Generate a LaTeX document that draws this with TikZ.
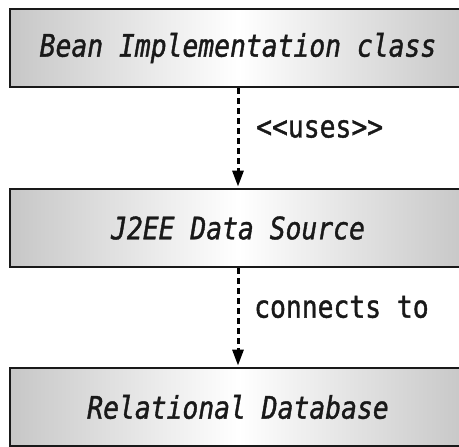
\documentclass[tikz,border=0pt]{standalone}
\usepackage{fontspec}
\newfontfamily\monofont[FakeStretch=0.85,FakeBold=1.2]{DejaVu Sans Mono}
\usetikzlibrary{arrows.meta}
\begin{document}
\begin{tikzpicture}[x=1pt,y=-1pt,
  box/.style={draw=black!90, line width=2.8pt, left color=black!22, right color=black!22, middle color=white, minimum width=456pt, minimum height=78pt, inner sep=0pt, font=\monofont\itshape\fontsize{31}{34}\selectfont, text=black!90},
  conn/.style={draw=black, line width=3pt, dash pattern=on 6pt off 4pt, -{Triangle[width=11pt,length=16pt]}, shorten >=1pt},
  lbl/.style={anchor=west, inner sep=0pt, font=\monofont\fontsize{31}{34}\selectfont, text=black!90}]
\useasboundingbox (0,0) rectangle (459,447);
\node[box] (bean) at (238,48) {Bean Implementation class};
\node[box] (ds) at (238,228) {J2EE Data Source};
\node[box] (db) at (238,407) {Relational Database};
\draw[conn] (bean.south) -- (ds.north);
\draw[conn] (ds.south) -- (db.north);
\node[lbl] (uses) at (256,129) {<{}<uses>{}>};
\node[lbl] (ct) at (254,307) {connects to};
\end{tikzpicture}
\end{document}
